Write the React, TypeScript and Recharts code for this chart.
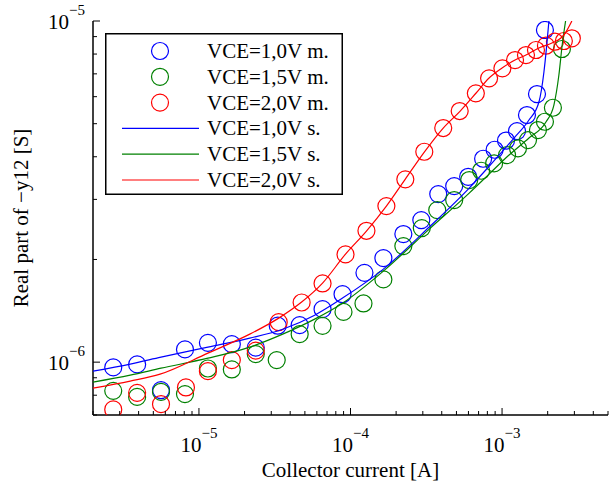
import React from 'react';
import { ScatterChart, Scatter, XAxis, YAxis, Legend } from 'recharts';

const FONT = '"Liberation Serif", "Times New Roman", serif';
const BLUE = '#0000ff';
const GREEN = '#008000';
const RED = '#ff0000';

// measured Re(-y12): collector current [A], conductance [uS]
const measIc10 = [2.72e-6, 3.91e-6, 5.62e-6, 8.09e-6, 1.146e-5, 1.648e-5, 2.371e-5, 3.31e-5, 4.62e-5, 6.54e-5, 8.86e-5, 1.236e-4, 1.648e-4, 2.232e-4, 2.932e-4, 3.793e-4, 4.833e-4, 5.975e-4, 7.5e-4, 8.93e-4, 1.062e-3, 1.255e-3, 1.46e-3, 1.7e-3, 1.918e-3];
const measG10 = [0.965, 0.985, 0.828, 1.09, 1.139, 1.129, 1.103, 1.279, 1.284, 1.43, 1.582, 1.827, 2.018, 2.374, 2.609, 3.109, 3.282, 3.494, 3.947, 4.194, 4.463, 4.757, 5.301, 6.108, 9.41];

const measIc15 = [2.72e-6, 3.91e-6, 5.62e-6, 8.09e-6, 1.146e-5, 1.648e-5, 2.371e-5, 3.26e-5, 4.62e-5, 6.54e-5, 8.99e-5, 1.218e-4, 1.648e-4, 2.232e-4, 2.954e-4, 3.736e-4, 4.833e-4, 6.07e-4, 7.275e-4, 8.86e-4, 1.079e-3, 1.274e-3, 1.483e-3, 1.725e-3, 1.918e-3, 2.165e-3, 2.482e-3];
const measG15 = [0.824, 0.791, 0.818, 0.806, 0.958, 0.952, 1.056, 1.014, 1.208, 1.278, 1.404, 1.486, 1.748, 2.189, 2.472, 2.791, 2.986, 3.418, 3.639, 3.825, 4.046, 4.233, 4.477, 4.79, 5.066, 5.568, 8.277];

const measIc20 = [2.72e-6, 3.91e-6, 5.62e-6, 8.21e-6, 1.146e-5, 1.648e-5, 2.371e-5, 3.36e-5, 4.76e-5, 6.54e-5, 9.27e-5, 1.274e-4, 1.725e-4, 2.3e-4, 3.068e-4, 4.091e-4, 5.253e-4, 6.714e-4, 8.21e-4, 1.005e-3, 1.218e-3, 1.438e-3, 1.674e-3, 1.948e-3, 2.232e-3, 2.557e-3, 2.887e-3];
const measG20 = [0.727, 0.813, 0.753, 0.843, 0.941, 1.014, 1.081, 1.31, 1.496, 1.701, 2.069, 2.427, 2.867, 3.434, 4.137, 4.856, 5.446, 6.138, 6.792, 7.264, 7.683, 7.947, 8.222, 8.464, 8.695, 8.736, 8.898];

// simulated curves
const simIc10 = [2e-6, 3.52e-6, 5.62e-6, 1.146e-5, 2.165e-5, 3.57e-5, 5.8e-5, 8.86e-5, 1.648e-4, 3.309e-4, 6.07e-4, 8.465e-4, 1.199e-3, 1.505e-3, 1.751e-3, 1.889e-3, 1.963e-3, 2.038e-3];
const simG10 = [0.941, 0.987, 1.034, 1.107, 1.176, 1.249, 1.373, 1.541, 1.874, 2.489, 3.238, 3.807, 4.539, 5.125, 5.788, 7.09, 8.33, 10.0];

const simIc15 = [2e-6, 3.52e-6, 5.62e-6, 1.146e-5, 2.165e-5, 3.57e-5, 5.8e-5, 8.86e-5, 1.648e-4, 3.309e-4, 6.07e-4, 8.21e-4, 1.112e-3, 1.505e-3, 1.948e-3, 2.198e-3, 2.371e-3, 2.493e-3, 2.625e-3];
const simG15 = [0.874, 0.916, 0.96, 1.027, 1.107, 1.208, 1.337, 1.489, 1.849, 2.455, 3.13, 3.558, 4.046, 4.539, 5.056, 5.671, 6.944, 8.503, 10.0];

const simIc20 = [2e-6, 3.52e-6, 5.54e-6, 1.146e-5, 2.165e-5, 3.36e-5, 4.76e-5, 6.54e-5, 9.27e-5, 1.274e-4, 1.725e-4, 2.3e-4, 3.068e-4, 4.091e-4, 5.293e-4, 6.744e-4, 8.21e-4, 1.0e-3, 1.218e-3, 1.438e-3, 1.751e-3, 2.133e-3, 2.445e-3, 2.637e-3, 2.887e-3];
const simG20 = [0.839, 0.88, 0.922, 1.063, 1.208, 1.346, 1.5, 1.705, 2.073, 2.422, 2.867, 3.441, 4.129, 4.856, 5.446, 6.151, 6.805, 7.28, 7.683, 7.947, 8.33, 8.619, 8.915, 9.284, 10.0];

// axis ticks (decades get a label, the rest are minor marks)
const xMajor = [1e-5, 1e-4, 1e-3];
const xTicks = [2e-6, 3e-6, 4e-6, 5e-6, 6e-6, 7e-6, 8e-6, 9e-6, 1e-5, 2e-5, 3e-5, 4e-5, 5e-5, 6e-5, 7e-5, 8e-5, 9e-5, 1e-4, 2e-4, 3e-4, 4e-4, 5e-4, 6e-4, 7e-4, 8e-4, 9e-4, 1e-3, 2e-3, 3e-3, 4e-3, 5e-3];
const yMajor = [1e-6, 1e-5];
const yTicks = [7e-7, 8e-7, 9e-7, 1e-6, 2e-6, 3e-6, 4e-6, 5e-6, 6e-6, 7e-6, 8e-6, 9e-6, 1e-5];

const legendRows = [
  { label: 'VCE=1,0V m.', color: BLUE, marker: true },
  { label: 'VCE=1,5V m.', color: GREEN, marker: true },
  { label: 'VCE=2,0V m.', color: RED, marker: true },
  { label: 'VCE=1,0V s.', color: BLUE, marker: false },
  { label: 'VCE=1,5V s.', color: GREEN, marker: false },
  { label: 'VCE=2,0V s.', color: RED, marker: false },
];

const toPoints = (ic: number[], g: number[]) => ic.map((x, i) => ({ x, y: g[i] * 1e-6 }));

const meas10 = toPoints(measIc10, measG10);
const meas15 = toPoints(measIc15, measG15);
const meas20 = toPoints(measIc20, measG20);
const sim10 = toPoints(simIc10, simG10);
const sim15 = toPoints(simIc15, simG15);
const sim20 = toPoints(simIc20, simG20);

const ring = (color: string) => (props: any) => (
  <circle cx={props.cx} cy={props.cy} r={8.5} fill="none" stroke={color} strokeWidth={1.2} />
);
const noMarker = () => <g />;

const exponent = (v: number) => '\u2212' + Math.round(-Math.log10(v));

const PowerLabel = ({ x, y, v, anchor }: { x: number; y: number; v: number; anchor: string }) => (
  <text x={x} y={y} textAnchor={anchor} fontFamily={FONT} fill="#000">
    <tspan fontSize={21}>10</tspan>
    <tspan fontSize={15} dy={-14}>{exponent(v)}</tspan>
  </text>
);

// inward ticks on all four sides, labels only on bottom/left
const tickFor = (side: string, majors: number[]) => (props: any) => {
  const { x, y, payload } = props;
  const major = majors.includes(payload.value);
  const len = major ? 7 : 4;
  if (side === 'bottom') {
    return (
      <g>
        <line x1={x} y1={y} x2={x} y2={y - len} stroke="#000" />
        {major && <PowerLabel x={x} y={y + 37} v={payload.value} anchor="middle" />}
      </g>
    );
  }
  if (side === 'top') {
    return <line x1={x} y1={y} x2={x} y2={y + len} stroke="#000" />;
  }
  if (side === 'left') {
    return (
      <g>
        <line x1={x} y1={y} x2={x + len} y2={y} stroke="#000" />
        {major && <PowerLabel x={x - 8} y={y + 8} v={payload.value} anchor="end" />}
      </g>
    );
  }
  return <line x1={x} y1={y} x2={x - len} y2={y} stroke="#000" />;
};

const XTitle = (props: any) => {
  const vb = props.viewBox;
  return (
    <text x={vb.x + vb.width / 2} y={vb.y + 62} textAnchor="middle" fontFamily={FONT} fontSize={21} fill="#000">
      Collector current [A]
    </text>
  );
};

const YTitle = (props: any) => {
  const vb = props.viewBox;
  const cx = vb.x + 28;
  const cy = vb.y + vb.height / 2;
  return (
    <text x={cx} y={cy} transform={`rotate(-90, ${cx}, ${cy})`} textAnchor="middle" fontFamily={FONT} fontSize={21} fill="#000">
      Real part of {'\u2212'}y12 [S]
    </text>
  );
};

const LegendBox = () => (
  <svg width={238} height={162} style={{ display: 'block' }}>
    <rect x={0.75} y={0.75} width={236.5} height={160.5} fill="#fff" stroke="#000" strokeWidth={1.5} />
    {legendRows.map((row, i) => {
      const cy = 18 + i * 25.8;
      return (
        <g key={row.label}>
          {row.marker ? (
            <circle cx={55} cy={cy} r={8.5} fill="none" stroke={row.color} strokeWidth={1.2} />
          ) : (
            <line x1={17} y1={cy} x2={94} y2={cy} stroke={row.color} strokeWidth={1.2} />
          )}
          <text x={102} y={cy + 7} fontFamily={FONT} fontSize={21} fill="#000">
            {row.label}
          </text>
        </g>
      );
    })}
  </svg>
);

const axisLine = { stroke: '#000', strokeWidth: 1.5 };

export default function App() {
  return (
    <div style={{ position: 'absolute', left: 0, top: 0, background: '#fff' }}>
      <ScatterChart width={610} height={487} margin={{ top: 21, right: 2, bottom: 0, left: 0 }}>
        <XAxis
          dataKey="x"
          type="number"
          scale="log"
          domain={[2e-6, 5e-3]}
          allowDataOverflow
          ticks={xTicks}
          interval={0}
          tick={tickFor('bottom', xMajor)}
          tickLine={false}
          tickSize={0}
          tickMargin={0}
          height={72}
          axisLine={axisLine}
          label={<XTitle />}
        />
        <XAxis
          xAxisId="top"
          orientation="top"
          dataKey="x"
          type="number"
          scale="log"
          domain={[2e-6, 5e-3]}
          allowDataOverflow
          ticks={xTicks}
          interval={0}
          tick={tickFor('top', xMajor)}
          tickLine={false}
          tickSize={0}
          tickMargin={0}
          height={0}
          axisLine={axisLine}
        />
        <YAxis
          dataKey="y"
          type="number"
          scale="log"
          domain={[7e-7, 1e-5]}
          allowDataOverflow
          ticks={yTicks}
          interval={0}
          tick={tickFor('left', yMajor)}
          tickLine={false}
          tickSize={0}
          tickMargin={0}
          width={93}
          axisLine={axisLine}
          label={<YTitle />}
        />
        <YAxis
          yAxisId="right"
          orientation="right"
          dataKey="y"
          type="number"
          scale="log"
          domain={[7e-7, 1e-5]}
          allowDataOverflow
          ticks={yTicks}
          interval={0}
          tick={tickFor('right', yMajor)}
          tickLine={false}
          tickSize={0}
          tickMargin={0}
          width={0}
          axisLine={axisLine}
        />

        <Scatter name="VCE=1,0V m." data={meas10} fill={BLUE} shape={ring(BLUE)} isAnimationActive={false} />
        <Scatter name="VCE=1,5V m." data={meas15} fill={GREEN} shape={ring(GREEN)} isAnimationActive={false} />
        <Scatter name="VCE=2,0V m." data={meas20} fill={RED} shape={ring(RED)} isAnimationActive={false} />
        <Scatter name="VCE=1,0V s." data={sim10} fill={BLUE} line={{ stroke: BLUE, strokeWidth: 1.2 }} lineJointType="monotoneX" shape={noMarker} isAnimationActive={false} />
        <Scatter name="VCE=1,5V s." data={sim15} fill={GREEN} line={{ stroke: GREEN, strokeWidth: 1.2 }} lineJointType="monotoneX" shape={noMarker} isAnimationActive={false} />
        <Scatter name="VCE=2,0V s." data={sim20} fill={RED} line={{ stroke: RED, strokeWidth: 1.2 }} lineJointType="monotoneX" shape={noMarker} isAnimationActive={false} />

        <Legend
          layout="vertical"
          align="center"
          verticalAlign="middle"
          wrapperStyle={{ left: 105, top: 33, width: 238, height: 162 }}
          content={() => <LegendBox />}
        />
      </ScatterChart>
    </div>
  );
}
